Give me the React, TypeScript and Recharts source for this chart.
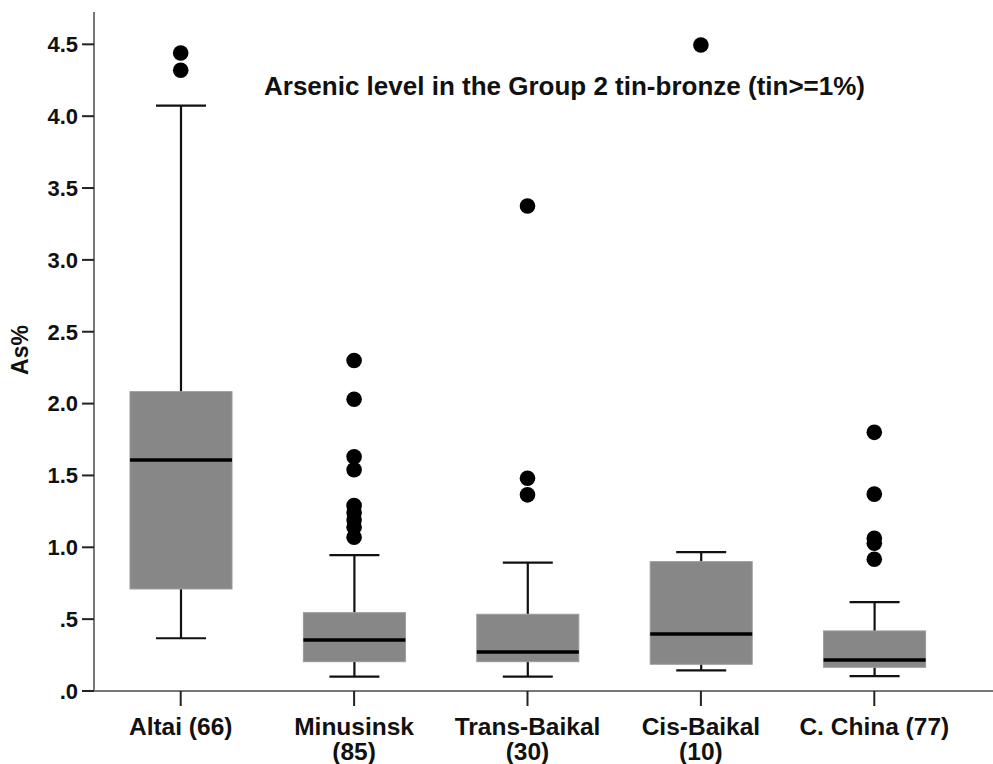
import React from "react";
import { ComposedChart, Bar, Scatter, XAxis, YAxis } from "recharts";

const categories = ["Altai (66)", "Minusinsk (85)", "Trans-Baikal (30)", "Cis-Baikal (10)", "C. China (77)"];
const categoryLines = [["Altai (66)"], ["Minusinsk", "(85)"], ["Trans-Baikal", "(30)"], ["Cis-Baikal", "(10)"], ["C. China (77)"]];
const whiskerLow = [0.367, 0.10, 0.10, 0.144, 0.104];
const q1 = [0.71, 0.204, 0.204, 0.186, 0.165];
const median = [1.607, 0.355, 0.271, 0.397, 0.216];
const q3 = [2.083, 0.545, 0.534, 0.90, 0.418];
const whiskerHigh = [4.073, 0.946, 0.893, 0.967, 0.619];
const outliers = [
  [4.44, 4.32],
  [2.30, 2.03, 1.63, 1.54, 1.29, 1.24, 1.19, 1.14, 1.07],
  [3.375, 1.48, 1.365],
  [4.495],
  [1.80, 1.37, 1.063, 1.028, 0.917],
];
const yTicks = [0, 0.5, 1, 1.5, 2, 2.5, 3, 3.5, 4, 4.5];

const FONT = "'Liberation Sans', Arial, Helvetica, sans-serif";

const boxData = categories.map((name, i) => ({
  name,
  low: whiskerLow[i],
  q1: q1[i],
  median: median[i],
  q3: q3[i],
  high: whiskerHigh[i],
  range: [whiskerLow[i], whiskerHigh[i]],
}));

const outlierData = categories.flatMap((name, i) => outliers[i].map((v) => ({ name, v })));

const BoxShape = (props: any) => {
  const { x, y, width, height, payload } = props;
  if (x == null || y == null || !payload) return null;
  const top = Math.min(y, y + height);
  const h = Math.abs(height);
  const span = payload.high - payload.low;
  const ppu = span > 0 ? h / span : 0;
  const py = (v: number) => top + (payload.high - v) * ppu;
  const cx = x + width / 2;
  const capHalf = 25;
  const yHigh = py(payload.high);
  const yLow = py(payload.low);
  const yQ3 = py(payload.q3);
  const yQ1 = py(payload.q1);
  const yMed = py(payload.median);
  return (
    <g>
      <line x1={cx} x2={cx} y1={yHigh} y2={yQ3} stroke="#111" strokeWidth={2.2} />
      <line x1={cx} x2={cx} y1={yQ1} y2={yLow} stroke="#111" strokeWidth={2.2} />
      <line x1={cx - capHalf} x2={cx + capHalf} y1={yHigh} y2={yHigh} stroke="#111" strokeWidth={2.2} />
      <line x1={cx - capHalf} x2={cx + capHalf} y1={yLow} y2={yLow} stroke="#111" strokeWidth={2.2} />
      <rect x={x} y={yQ3} width={width} height={yQ1 - yQ3} fill="#878787" stroke="#9a9a9a" strokeWidth={1} />
      <line x1={x} x2={x + width} y1={yMed} y2={yMed} stroke="#000" strokeWidth={3.5} />
    </g>
  );
};

const XTick = (props: any) => {
  const { x, y, payload } = props;
  const idx = categories.indexOf(payload.value);
  const lines = idx >= 0 ? categoryLines[idx] : [String(payload.value)];
  return (
    <text x={x} y={y} textAnchor="middle" fontFamily={FONT} fontWeight="bold" fontSize={24.5} fill="#111">
      {lines.map((l, i) => (
        <tspan key={i} x={x} dy={i === 0 ? 27 : 25}>
          {l}
        </tspan>
      ))}
    </text>
  );
};

const fmtY = (v: number) => {
  const s = v.toFixed(1);
  return s.startsWith("0") ? s.slice(1) : s;
};

export default function App() {
  return (
    <div style={{ position: "absolute", left: 0, top: 0, width: 993, height: 764, background: "#fff" }}>
      <ComposedChart width={993} height={764} data={boxData} margin={{ top: 12, right: 0, left: 0, bottom: 0 }}>
        <XAxis
          dataKey="name"
          type="category"
          allowDuplicatedCategory={false}
          height={73}
          padding={{ left: 0, right: 32 }}
          tickSize={15}
          tick={<XTick />}
          interval={0}
          axisLine={{ stroke: "#777", strokeWidth: 2 }}
          tickLine={{ stroke: "#222", strokeWidth: 2 }}
        />
        <YAxis
          type="number"
          width={94}
          domain={[0, 4.725]}
          ticks={yTicks}
          interval={0}
          tickSize={12}
          tickMargin={4}
          tickFormatter={fmtY}
          allowDataOverflow
          axisLine={{ stroke: "#777", strokeWidth: 2 }}
          tickLine={{ stroke: "#222", strokeWidth: 2 }}
          tick={{ fontFamily: FONT, fontWeight: "bold", fontSize: 22, fill: "#111" }}
        />
        <Bar dataKey="range" barSize={102} shape={<BoxShape />} isAnimationActive={false} />
        <Scatter data={outlierData} dataKey="v" fill="#000" isAnimationActive={false}
          shape={(p: any) => <circle cx={p.cx} cy={p.cy} r={7.8} fill="#000" />} />
      </ComposedChart>
      <svg width={993} height={764} style={{ position: "absolute", left: 0, top: 0, pointerEvents: "none" }}>
        <text x={264} y={95} fontFamily={FONT} fontWeight="bold" fontSize={26} fill="#111">
          Arsenic level in the Group 2 tin-bronze (tin&gt;=1%)
        </text>
        <text x={28} y={350} transform="rotate(-90 28 350)" textAnchor="middle" fontFamily={FONT} fontWeight="bold" fontSize={23} fill="#111">
          As%
        </text>
      </svg>
    </div>
  );
}
